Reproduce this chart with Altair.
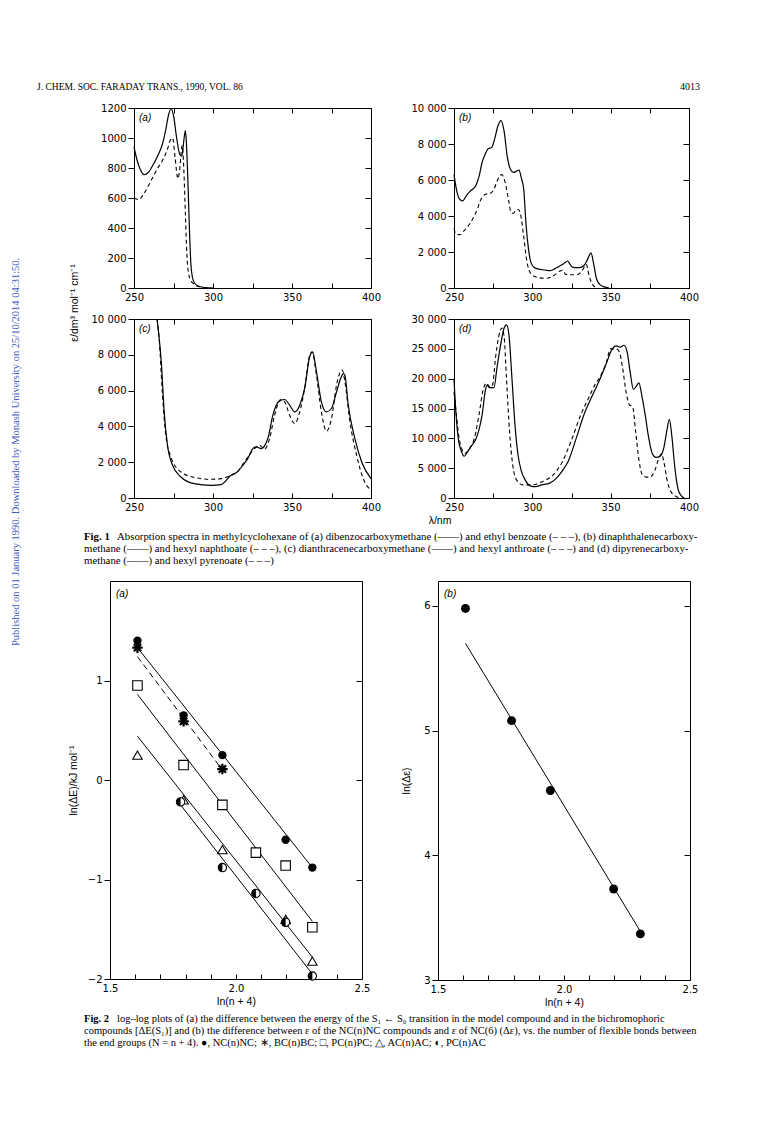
import altair as alt
import pandas as pd

SANS = "Liberation Sans"
TICKF = "DejaVu Sans"
SERIF = "Liberation Serif"
PAGE_W, PAGE_H = 752, 1112
OX, OY = 8, 8

# ---------------- text ----------------
header_left = "J. CHEM. SOC. FARADAY TRANS., 1990, VOL. 86"
header_right = "4013"
side_note = "Published on 01 January 1990. Downloaded by Monash University on 25/10/2014 04:31:50."
fig1_ytitle = "ε/dm³ mol⁻¹ cm⁻¹"
fig1_xtitle = "λ/nm"
cap1_tag = "Fig. 1"
cap1_lines = [
    "Absorption spectra in methylcyclohexane of (a) dibenzocarboxymethane (——) and ethyl benzoate (– – –), (b) dinaphthalenecarboxy-",
    "methane (——) and hexyl naphthoate (– – –), (c) dianthracenecarboxymethane (——) and hexyl anthroate (– – –) and (d) dipyrenecarboxy-",
    "methane (——) and hexyl pyrenoate (– – –)",
]
cap2_tag = "Fig. 2"
cap2_lines = [
    "log–log plots of (a) the difference between the energy of the S₁ ← S₀ transition in the model compound and in the bichromophoric",
    "compounds [ΔE(S₁)] and (b) the difference between ε of the NC(n)NC compounds and ε of NC(6) (Δε), vs. the number of flexible bonds between",
    "the end groups (N = n + 4). ●, NC(n)NC; ∗, BC(n)BC; □, PC(n)PC; △, AC(n)AC; ◐, PC(n)AC",
]

# ---------------- Fig. 1 data (wavelength/nm, epsilon) ----------------
a_solid_nm = [250, 252, 254, 256.5, 259, 262, 265, 268, 270, 272, 273.5, 275, 277, 279, 280.3, 281.5, 282.5, 283, 284, 285, 286, 287, 288.5, 291, 295, 300]
a_solid_eps = [940, 850, 790, 755, 770, 820, 880, 960, 1050, 1160, 1195, 1150, 1000, 890, 880, 980, 1050, 1000, 750, 420, 160, 70, 30, 12, 3, 0]
a_dash_nm = [250, 253, 256, 259, 262, 265, 267, 269, 271, 273, 274.5, 276, 277.8, 278.8, 280.5, 281.5, 282.5, 283.5, 284.5, 286, 288, 291, 295, 299]
a_dash_eps = [600, 590, 625, 680, 740, 800, 830, 870, 920, 985, 1000, 870, 729, 780, 950, 800, 500, 220, 100, 50, 25, 10, 2, 0]

b_solid_nm = [250, 252, 254, 255.5, 258, 261, 264, 266, 268, 270, 272, 274, 276, 278, 280, 282, 284, 286, 288, 290, 291.5, 293, 294.5, 296, 297.5, 299, 301, 304, 308, 311, 314, 317, 320, 322.5, 324, 326, 330, 333, 335, 337.5, 339, 341, 343, 346, 349]
b_solid_eps = [6300, 5300, 4900, 4840, 5150, 5430, 5700, 6200, 7000, 7450, 7750, 7800, 8300, 9000, 9300, 8700, 7300, 6600, 6420, 6500, 6550, 6100, 5500, 3500, 2200, 1450, 1150, 1050, 1000, 960, 1050, 1200, 1350, 1500, 1320, 1150, 1130, 1250, 1550, 1950, 1400, 500, 200, 60, 0]
b_dash_nm = [250, 251, 253.8, 256, 258.5, 261, 263.4, 265, 266.6, 269.2, 271, 273, 275.2, 277.3, 279, 280.5, 282.6, 284.8, 286.5, 288, 289, 291.2, 292.7, 294.4, 296.5, 299, 302.9, 306, 309.3, 313.6, 317.8, 319.6, 321, 324.2, 328.5, 331.7, 334.5, 336, 338.1, 341.3]
b_dash_eps = [3300, 3050, 2960, 3150, 3372, 3700, 4090, 4400, 4807, 5166, 5230, 5255, 5435, 5883, 6200, 6296, 5883, 4897, 4180, 4150, 4269, 4359, 4000, 2924, 1489, 807, 592, 550, 538, 682, 950, 987, 771, 735, 735, 950, 1310, 771, 233, 0]

c_solid_nm = [264.6, 265.5, 267.4, 269.1, 271.2, 274.4, 279.7, 288, 298.7, 305, 311.4, 315.3, 318.9, 322, 325.2, 327.3, 330.5, 334.7, 337.9, 341.5, 345.3, 348.5, 351.7, 354.9, 358, 361.2, 363, 365.5, 368.6, 371.8, 375, 378.2, 380.9, 382.5, 383.5, 385.6, 389.8, 394.1, 400]
c_solid_eps = [10000, 9300, 7425, 4813, 2948, 1828, 1175, 802, 709, 746, 1269, 1455, 1828, 2201, 2761, 2854, 2761, 3321, 4627, 5373, 5504, 5187, 4813, 5187, 6119, 7892, 8150, 7052, 5373, 4813, 5000, 5933, 6700, 6950, 6850, 5187, 3321, 2015, 1082]
c_dash_nm = [264.6, 266, 268, 270, 273.3, 279.7, 288, 298.7, 305, 311.4, 315.3, 319.9, 326.3, 329.4, 332.6, 335.8, 339, 342.8, 345.3, 348.5, 351.7, 354.9, 358, 361.2, 362.7, 365.5, 368.6, 371.8, 375, 378.2, 380.9, 381.8, 383.5, 386.7, 390.9, 395.1, 400]
c_dash_eps = [10000, 8800, 5800, 3600, 2300, 1455, 1150, 1045, 1082, 1269, 1455, 2015, 2761, 2948, 2724, 3321, 4627, 5504, 5373, 4627, 4160, 4813, 6119, 7985, 8172, 6866, 4813, 3731, 4440, 6306, 7100, 7150, 6493, 4254, 2388, 1082, 429]

d_solid_nm = [250, 251.3, 252.8, 254.5, 256.5, 258.5, 261, 264, 266, 268, 270, 271.5, 273, 275.5, 277.5, 280, 282, 283.5, 285, 287, 289, 291, 293, 295.5, 299, 302, 306, 311, 315, 319, 323, 328, 333, 338, 343, 347, 351, 353.5, 356, 358.5, 360.5, 362.5, 364.5, 366.5, 368, 370, 372, 374, 376.5, 379, 381.5, 384, 386, 387.5, 389, 391, 393, 395, 397]
d_solid_eps = [20000, 14000, 9800, 8000, 7000, 7700, 8700, 9900, 11500, 14000, 18000, 19000, 18500, 18500, 22000, 26000, 28500, 29000, 27500, 20000, 12000, 7000, 4500, 3000, 2000, 1900, 2200, 2500, 3200, 4500, 6200, 10000, 14000, 17000, 19800, 22400, 25000, 25500, 25300, 25600, 24500, 21000, 18200, 18800, 19300, 17000, 14000, 10500, 7500, 6800, 7000, 8500, 11500, 13200, 10500, 5000, 1500, 400, 0]
d_dash_nm = [250, 251.5, 253, 255, 257, 260, 263, 266, 268.5, 270.5, 272.5, 274.5, 276.5, 278.5, 280.5, 282, 283.5, 285.5, 287.5, 290, 294, 300, 306, 313, 319, 325, 331, 336, 340, 343, 347, 350, 353.5, 355.5, 357.5, 360, 362, 364, 366, 368, 370, 373, 375, 378, 381, 382.5, 384, 386, 388, 391, 394]
d_dash_eps = [17800, 14000, 10500, 8200, 7500, 8300, 10000, 14000, 18000, 19200, 18500, 18800, 23500, 27000, 28500, 27000, 20000, 11000, 5500, 3000, 2200, 2200, 2700, 3800, 6000, 9700, 14000, 16800, 19000, 20200, 22500, 25000, 25000, 24500, 22000, 17500, 15600, 15300, 11000, 6500, 4000, 3500, 3500, 4500, 6800, 7400, 6000, 3000, 1300, 400, 0]

# ---------------- Fig. 2 data ----------------
nc_x = [1.609, 1.792, 1.946, 2.197, 2.303]
nc_y = [1.40, 0.65, 0.25, -0.60, -0.88]
bc_x = [1.609, 1.792, 1.946]
bc_y = [1.33, 0.59, 0.11]
pc_x = [1.609, 1.792, 1.946, 2.079, 2.197, 2.303]
pc_y = [0.95, 0.15, -0.25, -0.73, -0.86, -1.48]
ac_x = [1.609, 1.792, 1.946, 2.197, 2.303]
ac_y = [0.25, -0.20, -0.70, -1.40, -1.82]
pcac_x = [1.780, 1.946, 2.079, 2.197, 2.303]
pcac_y = [-0.22, -0.88, -1.14, -1.43, -1.97]
nc_fit_x, nc_fit_y = [1.609, 2.303], [1.33, -0.88]
bc_fit_x, bc_fit_y = [1.609, 1.946], [1.24, 0.10]
pc_fit_x, pc_fit_y = [1.609, 2.303], [0.86, -1.42]
ac_fit_x, ac_fit_y = [1.609, 2.303], [0.44, -1.78]
pcac_fit_x, pcac_fit_y = [1.780, 2.303], [-0.25, -1.95]

eps_x = [1.609, 1.792, 1.946, 2.197, 2.303]
eps_y = [5.98, 5.08, 4.52, 3.73, 3.37]
eps_fit_x, eps_fit_y = [1.609, 2.303], [5.70, 3.39]

fig1_x_labels = [250, 300, 350, 400]
fig1_x_ticks = [250, 275, 300, 325, 350, 375, 400]
a_y_ticks = [0, 200, 400, 600, 800, 1000, 1200]
b_y_ticks = [0, 2000, 4000, 6000, 8000, 10000]
c_y_ticks = [0, 2000, 4000, 6000, 8000, 10000]
d_y_ticks = [0, 5000, 10000, 15000, 20000, 25000, 30000]
f2_x_labels = [1.5, 2.0, 2.5]
f2_x_ticks = [1.5, 1.6, 1.7, 1.8, 1.9, 2.0, 2.1, 2.2, 2.3, 2.4, 2.5]
f2a_y_labels = [-2, -1, 0, 1]
f2a_y_right = [-1, 0, 1]
f2b_y_labels = [3, 4, 5, 6]
f2b_y_right = [4, 5, 6]

SPACED = "replace(format(datum.value, ','), ',', ' ')"

# ---------------- layout (page pixels) ----------------
BOX_A = (134, 371, 108, 288)
BOX_B = (454, 689, 108, 288)
BOX_C = (134, 371, 319, 498)
BOX_D = (454, 689, 319, 498)
BOX_2A = (110, 362, 581, 979)
BOX_2B = (438, 690, 581, 980)


def px(v):
    return v - OX


def py(v):
    return v - OY


def make_axis(orient, offset, values, labels=True, ticks=True, domain=False,
              tick_size=5, fmt=None, label_expr=None, title=None,
              label_padding=3, title_padding=None, label_size=10):
    kw = dict(orient=orient, offset=offset, values=values, labels=labels,
              ticks=ticks, domain=domain, grid=False, tickSize=tick_size,
              tickColor="black", tickWidth=1, domainColor="black",
              domainWidth=1, labelFont=TICKF, labelFontSize=label_size,
              labelColor="black", labelPadding=label_padding,
              labelFlush=False, labelOverlap=False, title=title)
    if fmt is not None:
        kw["format"] = fmt
    if label_expr is not None:
        kw["labelExpr"] = label_expr
    if title is not None:
        kw.update(titleFont=SANS, titleFontSize=10.5, titleFontWeight="normal",
                  titleColor="black")
    if title_padding is not None:
        kw["titlePadding"] = title_padding
    return alt.Axis(**kw)


def text_layer(s, x, y, size=10, font=SERIF, weight="normal", style="normal",
               align="left", angle=0, color="black", baseline="alphabetic"):
    return alt.Chart(pd.DataFrame({"t": [s]})).mark_text(
        align=align, baseline=baseline, font=font, fontSize=size,
        fontWeight=weight, fontStyle=style, angle=angle, color=color
    ).encode(x=alt.value(px(x)), y=alt.value(py(y)), text="t:N")


def scales(box, xdom, ydom):
    x0, x1, y0, y1 = box
    xsc = alt.Scale(domain=xdom, range=[px(x0), px(x1)], nice=False, zero=False)
    ysc = alt.Scale(domain=ydom, range=[py(y1), py(y0)], nice=False, zero=False)
    return xsc, ysc


def frame_axes(box, xdom, ydom, xsc, ysc, x_labels, x_ticks, y_labels, y_right,
               fmt_x, fmt_y=None, lab_expr_y=None, top_ticks=True,
               xtitle=None, ytitle=None, xt_pad=None, yt_pad=None):
    x0, x1, y0, y1 = box
    corners = pd.DataFrame({"x": xdom, "y": ydom})

    def carrier(ax_x, ax_y):
        return alt.Chart(corners).mark_point(opacity=0).encode(
            x=alt.X("x:Q", scale=xsc, axis=ax_x),
            y=alt.Y("y:Q", scale=ysc, axis=ax_y))

    c1 = carrier(
        make_axis("bottom", -(PAGE_H - py(y1)), x_labels, ticks=False, domain=True,
                  fmt=fmt_x, label_padding=4, title=xtitle, title_padding=xt_pad),
        make_axis("left", -px(x0), y_labels, domain=True, fmt=fmt_y,
                  label_expr=lab_expr_y, label_padding=2, tick_size=6,
                  title=ytitle, title_padding=yt_pad))
    c2 = carrier(
        make_axis("top", -py(y1), x_ticks, labels=False, tick_size=5),
        make_axis("left", -px(x1), y_right, labels=False, domain=True, tick_size=6))
    c3 = carrier(
        make_axis("bottom", -(PAGE_H - py(y0)), x_ticks if top_ticks else [],
                  labels=False, domain=True, ticks=top_ticks, tick_size=5),
        None)
    return [c1, c2, c3]


def fig1_panel(sx, sy, dx, dy, box, ymax, yvals, tag, fmt_y=None, lab_expr=None):
    xdom, ydom = [250, 400], [0, ymax]
    xsc, ysc = scales(box, xdom, ydom)
    solid = alt.Chart(pd.DataFrame({"x": sx, "y": sy})).mark_line(
        color="black", strokeWidth=1.2, interpolate="monotone").encode(
        x=alt.X("x:Q", scale=xsc, axis=None), y=alt.Y("y:Q", scale=ysc, axis=None))
    dashed = alt.Chart(pd.DataFrame({"x": dx, "y": dy})).mark_line(
        color="black", strokeWidth=1.1, strokeDash=[4, 3], interpolate="monotone").encode(
        x=alt.X("x:Q", scale=xsc, axis=None), y=alt.Y("y:Q", scale=ysc, axis=None))
    axes = frame_axes(box, xdom, ydom, xsc, ysc, fig1_x_labels, fig1_x_ticks,
                      yvals, yvals, "d", fmt_y=fmt_y, lab_expr_y=lab_expr)
    label = text_layer(tag, box[0] + 5, box[2] + 13, size=10, font=SANS, style="italic")
    return [solid, dashed] + axes + [label]


def series_points(xs, ys, xsc, ysc, **mk):
    return alt.Chart(pd.DataFrame({"x": xs, "y": ys})).mark_point(**mk).encode(
        x=alt.X("x:Q", scale=xsc, axis=None), y=alt.Y("y:Q", scale=ysc, axis=None))


def series_line(xs, ys, xsc, ysc, dash=None):
    mk = dict(color="black", strokeWidth=1.0)
    if dash is not None:
        mk["strokeDash"] = dash
    return alt.Chart(pd.DataFrame({"x": xs, "y": ys})).mark_line(**mk).encode(
        x=alt.X("x:Q", scale=xsc, axis=None), y=alt.Y("y:Q", scale=ysc, axis=None))


STAR = "M0,-1L0,1M-1,0L1,0M-0.7,-0.7L0.7,0.7M-0.7,0.7L0.7,-0.7"
HALF = "M0,-1A1,1,0,0,0,0,1Z"

layers = []

# header + side note
layers.append(text_layer(header_left, 37, 90, size=9.5))
layers.append(text_layer(header_right, 700, 90, size=10, align="right"))
layers.append(text_layer(side_note, 16, 646, size=10.5, angle=270, baseline="middle",
                         color="#3f5cc4"))

# Fig. 1 panels
layers += fig1_panel(a_solid_nm, a_solid_eps, a_dash_nm, a_dash_eps, BOX_A, 1200, a_y_ticks, "(a)", fmt_y="d")
layers += fig1_panel(b_solid_nm, b_solid_eps, b_dash_nm, b_dash_eps, BOX_B, 10000, b_y_ticks, "(b)", lab_expr=SPACED)
layers += fig1_panel(c_solid_nm, c_solid_eps, c_dash_nm, c_dash_eps, BOX_C, 10000, c_y_ticks, "(c)", lab_expr=SPACED)
layers += fig1_panel(d_solid_nm, d_solid_eps, d_dash_nm, d_dash_eps, BOX_D, 30000, d_y_ticks, "(d)", lab_expr=SPACED)
layers.append(text_layer(fig1_ytitle, 75, 303, size=10.5, font=SANS, angle=270,
                         align="center", baseline="middle"))
layers.append(text_layer(fig1_xtitle, 440, 524, size=10.5, font=SANS, align="center"))

# caption 1
layers.append(text_layer(cap1_tag, 84, 540, size=10.8, weight="bold"))
layers.append(text_layer(cap1_lines[0], 117, 540, size=10.8))
layers.append(text_layer(cap1_lines[1], 84, 552, size=10.8))
layers.append(text_layer(cap1_lines[2], 84, 564, size=10.8))

# Fig. 2 (a)
xsc, ysc = scales(BOX_2A, [1.5, 2.5], [-2, 2])
layers += frame_axes(BOX_2A, [1.5, 2.5], [-2, 2], xsc, ysc, f2_x_labels, f2_x_ticks,
                     f2a_y_labels, f2a_y_right, ".1f", fmt_y="d", top_ticks=False,
                     xtitle="ln(n + 4)", ytitle="ln(ΔE)/kJ mol⁻¹", xt_pad=3, yt_pad=9)
layers.append(series_line(nc_fit_x, nc_fit_y, xsc, ysc))
layers.append(series_line(bc_fit_x, bc_fit_y, xsc, ysc, dash=[6, 4]))
layers.append(series_line(pc_fit_x, pc_fit_y, xsc, ysc))
layers.append(series_line(ac_fit_x, ac_fit_y, xsc, ysc))
layers.append(series_line(pcac_fit_x, pcac_fit_y, xsc, ysc))
layers.append(series_points(nc_x, nc_y, xsc, ysc, shape="circle", filled=True, color="black", size=70, opacity=1))
layers.append(series_points(bc_x, bc_y, xsc, ysc, shape=STAR, filled=False, color="black", size=110, strokeWidth=2.2, opacity=1))
layers.append(series_points(pc_x, pc_y, xsc, ysc, shape="square", filled=True, fill="white", stroke="black", size=90, strokeWidth=1.1, opacity=1))
layers.append(series_points(ac_x, ac_y, xsc, ysc, shape="triangle-up", filled=True, fill="white", stroke="black", size=90, strokeWidth=1.1, opacity=1))
layers.append(series_points(pcac_x, pcac_y, xsc, ysc, shape="circle", filled=True, fill="white", stroke="black", size=70, strokeWidth=1.1, opacity=1))
layers.append(series_points(pcac_x, pcac_y, xsc, ysc, shape=HALF, filled=True, color="black", size=70, opacity=1))
layers.append(text_layer("(a)", BOX_2A[0] + 6, BOX_2A[2] + 16, size=10, font=SANS, style="italic"))

# Fig. 2 (b)
xsc, ysc = scales(BOX_2B, [1.5, 2.5], [3, 6.2])
layers += frame_axes(BOX_2B, [1.5, 2.5], [3, 6.2], xsc, ysc, f2_x_labels, f2_x_ticks,
                     f2b_y_labels, f2b_y_right, ".1f", fmt_y="d", top_ticks=False,
                     xtitle="ln(n + 4)", ytitle="ln(Δε)", xt_pad=3, yt_pad=12)
layers.append(series_line(eps_fit_x, eps_fit_y, xsc, ysc))
layers.append(series_points(eps_x, eps_y, xsc, ysc, shape="circle", filled=True, color="black", size=80, opacity=1))
layers.append(text_layer("(b)", BOX_2B[0] + 6, BOX_2B[2] + 16, size=10, font=SANS, style="italic"))

# caption 2
layers.append(text_layer(cap2_tag, 84, 1022, size=10.5, weight="bold"))
layers.append(text_layer(cap2_lines[0], 117, 1022, size=10.5))
layers.append(text_layer(cap2_lines[1], 84, 1034, size=10.5))
layers.append(text_layer(cap2_lines[2], 84, 1046, size=10.5))

chart = alt.layer(*layers).resolve_scale(
    x="independent", y="independent"
).resolve_axis(
    x="independent", y="independent"
).properties(
    width=PAGE_W, height=PAGE_H, padding=0,
    autosize=alt.AutoSizeParams(type="none"),
    background="white",
).configure_view(stroke="transparent")

chart.save("out.html", embed_options={"renderer": "svg", "actions": False})
